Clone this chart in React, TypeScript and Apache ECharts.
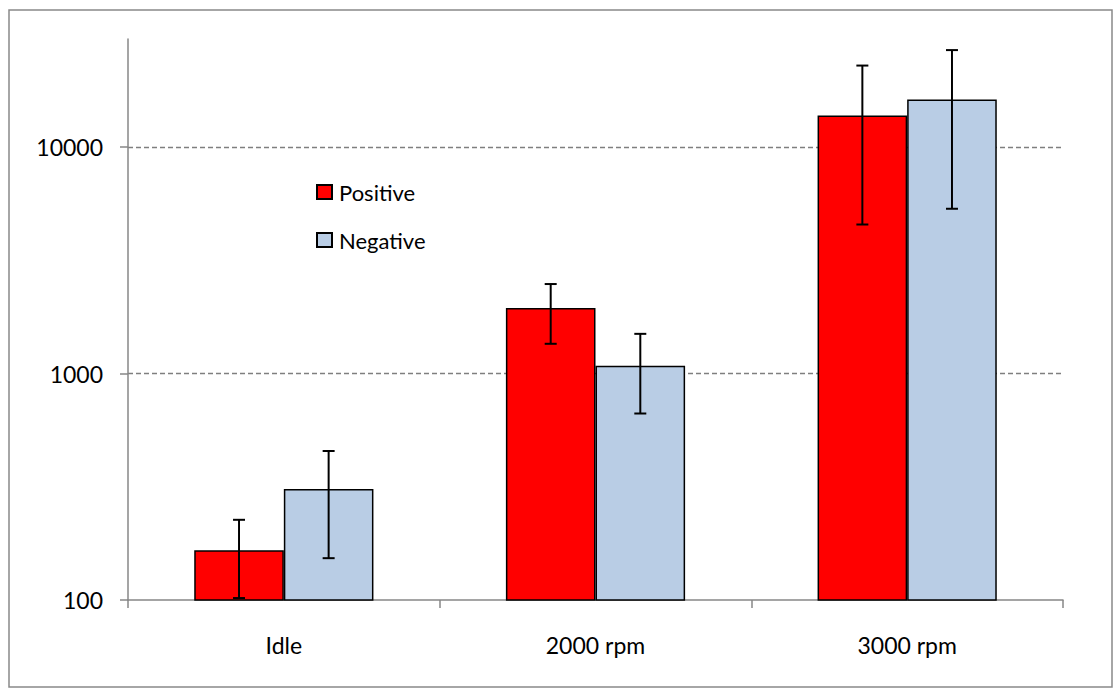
import React, { useEffect, useRef } from "react";
import * as echarts from "echarts";

const categories = ["Idle", "2000 rpm", "3000 rpm"];
const positive = [166, 1945, 13800];
const negative = [309, 1081, 16200];
const positiveLow = [102, 1353, 4550];
const positiveHigh = [226, 2484, 22900];
const negativeLow = [153, 666, 5340];
const negativeHigh = [455, 1497, 26800];
const yTickValues = [100, 1000, 10000];

const FONT = "Lato";
const GAP = 0.425;

function errorSeries(name: string, low: number[], high: number[], side: number) {
  return {
    type: "custom",
    name: name + " error",
    silent: true,
    z: 5,
    data: low.map((l, i) => [i, l, high[i]]),
    encode: { x: 0, y: [1, 2] },
    renderItem: (params: any, api: any) => {
      const band = api.size([1, 0])[0];
      const barW = (band * (1 - GAP)) / 2;
      const lowP = api.coord([api.value(0), api.value(1)]);
      const highP = api.coord([api.value(0), api.value(2)]);
      const x = lowP[0] + side * barW / 2;
      const cap = 6;
      const style = { stroke: "#000", lineWidth: 2 };
      return {
        type: "group",
        children: [
          { type: "line", shape: { x1: x, y1: lowP[1], x2: x, y2: highP[1] }, style },
          { type: "line", shape: { x1: x - cap, y1: lowP[1], x2: x + cap, y2: lowP[1] }, style },
          { type: "line", shape: { x1: x - cap, y1: highP[1], x2: x + cap, y2: highP[1] }, style },
        ],
      };
    },
  };
}

export default function App() {
  const ref = useRef<HTMLDivElement>(null);
  useEffect(() => {
    const chart = echarts.init(ref.current!, null, { renderer: "svg" });
    chart.setOption({
      animation: false,
      backgroundColor: "#fff",
      textStyle: { fontFamily: FONT },
      graphic: [
        {
          type: "rect",
          shape: { x: 9, y: 10, width: 1103, height: 677 },
          style: { fill: "none", stroke: "#898989", lineWidth: 1.5 },
          z: -1,
        },
      ],
      legend: {
        data: ["Positive", "Negative"],
        orient: "vertical",
        left: 311,
        top: 176,
        icon: "rect",
        itemWidth: 15,
        itemHeight: 14,
        itemGap: 26,
        textStyle: { fontFamily: FONT, fontSize: 22, color: "#000", padding: [0, 0, 0, 2] },
      },
      grid: { left: 128, right: 50, top: 39, bottom: 98, containLabel: false },
      xAxis: {
        type: "category",
        data: categories,
        axisLine: { lineStyle: { color: "#878787", width: 1.5 } },
        axisTick: { show: true, length: 8, alignWithLabel: false, lineStyle: { color: "#878787", width: 1.5 } },
        axisLabel: { margin: 33, fontSize: 23, color: "#000", fontFamily: FONT },
        splitLine: { show: false },
      },
      yAxis: {
        type: "log",
        logBase: 10,
        min: 100,
        max: 30000,
        axisLine: { show: true, lineStyle: { color: "#878787", width: 1.5 } },
        axisTick: {
          show: true,
          length: 8,
          customValues: yTickValues,
          lineStyle: { color: "#878787", width: 1.5 },
        },
        axisLabel: {
          margin: 25,
          fontSize: 23,
          color: "#000",
          fontFamily: FONT,
          customValues: yTickValues,
          formatter: (v: number) => String(Math.round(v)),
        },
        splitLine: {
          show: true,
          showMinLine: false,
          showMaxLine: true,
          lineStyle: { color: "#7f7f7f", type: [5, 3], width: 1.3 },
        },
      },
      series: [
        {
          type: "bar",
          name: "Positive",
          data: positive,
          barGap: "0%",
          barCategoryGap: GAP * 100 + "%",
          itemStyle: { color: "#FF0000", borderColor: "#000", borderWidth: 1.5 },
        },
        {
          type: "bar",
          name: "Negative",
          data: negative,
          barGap: "0%",
          barCategoryGap: GAP * 100 + "%",
          itemStyle: { color: "#B9CDE5", borderColor: "#000", borderWidth: 1.5 },
        },
        errorSeries("Positive", positiveLow, positiveHigh, -1),
        errorSeries("Negative", negativeLow, negativeHigh, 1),
      ],
    });
    return () => chart.dispose();
  }, []);
  return (
    <div
      ref={ref}
      style={{ position: "absolute", left: 0, top: 0, width: 1113, height: 698 }}
    />
  );
}
